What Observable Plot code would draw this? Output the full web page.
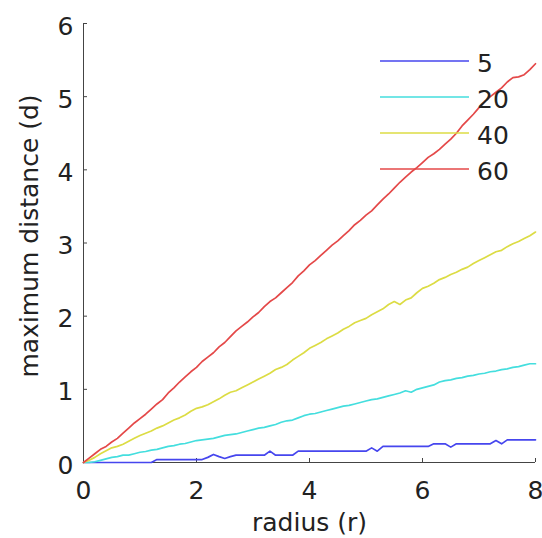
<!DOCTYPE html>
<html>
<head>
<meta charset="utf-8">
<script src="https://cdn.jsdelivr.net/npm/d3@7"></script>
<script src="https://cdn.jsdelivr.net/npm/@observablehq/plot@0.6"></script>
<style>
  html, body { margin: 0; padding: 0; background: #fff; }
</style>
</head>
<body>
<div id="chart"></div>
<script>
const radius = [0,0.1,0.2,0.3,0.4,0.5,0.6,0.7,0.8,0.9,1.0,1.1,1.2,1.3,1.4,1.5,1.6,1.7,1.8,1.9,
  2.0,2.1,2.2,2.3,2.4,2.5,2.6,2.7,2.8,2.9,3.0,3.1,3.2,3.3,3.4,3.5,3.6,3.7,3.8,3.9,
  4.0,4.1,4.2,4.3,4.4,4.5,4.6,4.7,4.8,4.9,5.0,5.1,5.2,5.3,5.4,5.5,5.6,5.7,5.8,5.9,
  6.0,6.1,6.2,6.3,6.4,6.5,6.6,6.7,6.8,6.9,7.0,7.1,7.2,7.3,7.4,7.5,7.6,7.7,7.8,7.9,8.0];

const d5 = [0,0,0,0,0,0,0,0,0,0,0,0,0,
  0.04,0.04,0.04,0.04,0.04,0.04,0.04,0.04,0.04,
  0.07,0.11,0.08,0.055,0.08,0.1,
  0.1,0.1,0.1,0.1,0.1,
  0.155,0.1,
  0.1,0.1,0.1,
  0.155,0.155,0.155,0.155,0.155,0.155,0.155,0.155,0.155,0.155,0.155,0.155,0.155,
  0.2,0.155,0.22,
  0.22,0.22,0.22,0.22,0.22,0.22,0.22,0.22,
  0.255,0.255,0.255,
  0.21,0.255,
  0.255,0.255,0.255,0.255,0.255,0.255,
  0.3,0.255,0.31,
  0.31,0.31,0.31,0.31,0.31];

const d20 = [0,0,0.01,0.03,0.05,0.07,0.08,0.1,0.1,0.12,0.14,0.15,0.17,0.18,0.2,0.22,0.23,0.25,0.26,0.28,
  0.3,0.31,0.32,0.33,0.35,0.37,0.38,0.39,0.41,0.43,0.45,0.47,0.48,0.5,0.52,0.55,0.57,0.58,0.61,0.64,
  0.66,0.67,0.69,0.71,0.73,0.75,0.77,0.78,0.8,0.82,0.84,0.86,0.87,0.89,0.91,0.93,0.95,0.98,0.96,1.0,
  1.02,1.04,1.06,1.1,1.12,1.13,1.15,1.16,1.18,1.19,1.21,1.22,1.24,1.25,1.27,1.28,1.3,1.31,1.33,1.35,1.35];

const d40 = [0,0.03,0.07,0.12,0.16,0.2,0.22,0.25,0.29,0.33,0.37,0.4,0.43,0.47,0.5,0.54,0.58,0.61,0.65,0.7,
  0.74,0.76,0.79,0.83,0.87,0.92,0.96,0.98,1.02,1.06,1.1,1.14,1.18,1.22,1.27,1.3,1.34,1.4,1.45,1.5,
  1.56,1.6,1.64,1.69,1.73,1.77,1.82,1.86,1.91,1.94,1.97,2.02,2.06,2.1,2.16,2.2,2.16,2.22,2.25,2.32,
  2.38,2.41,2.45,2.5,2.53,2.57,2.6,2.64,2.67,2.72,2.76,2.8,2.84,2.88,2.9,2.95,2.99,3.02,3.06,3.1,3.15];

const d60 = [0,0.06,0.12,0.18,0.22,0.28,0.33,0.4,0.47,0.54,0.6,0.66,0.73,0.8,0.86,0.95,1.02,1.1,1.17,1.24,
  1.3,1.38,1.44,1.5,1.58,1.64,1.72,1.8,1.86,1.92,1.99,2.05,2.13,2.2,2.25,2.32,2.39,2.46,2.55,2.62,
  2.7,2.76,2.83,2.9,2.97,3.03,3.1,3.17,3.25,3.31,3.38,3.44,3.52,3.6,3.67,3.75,3.83,3.9,3.97,4.03,
  4.1,4.17,4.22,4.28,4.35,4.42,4.5,4.6,4.68,4.76,4.85,4.93,5.0,5.06,5.12,5.2,5.26,5.27,5.3,5.37,5.45];

const seriesNames = ["5", "20", "40", "60"];
const seriesColors = ["#4646ee", "#44dede", "#dcdc44", "#e44848"];
const xTicks = [0, 2, 4, 6, 8];
const yTicks = [0, 1, 2, 3, 4, 5, 6];

const seriesValues = [d5, d20, d40, d60];
const table = [];
seriesNames.forEach((name, s) => {
  radius.forEach((r, i) => table.push({series: name, r, d: seriesValues[s][i]}));
});

const W = 542, H = 538, ML = 83, MR = 7, MT = 23, MB = 76;
const innerW = W - ML - MR, innerH = H - MT - MB;
const axisColor = "#444";
const font = "DejaVu Sans";

const svg = Plot.plot({
  width: W, height: H,
  marginLeft: ML, marginRight: MR, marginTop: MT, marginBottom: MB,
  style: {fontFamily: font, fontSize: "25px", background: "#fff", color: "#222"},
  x: {domain: [0, 8]},
  y: {domain: [0, 6]},
  color: {domain: seriesNames, range: seriesColors},
  marks: [
    Plot.axisX({ticks: xTicks, tickFormat: d => String(d), tickSize: 0, tickPadding: 19, label: null, fontSize: 25, fill: "#222"}),
    Plot.axisY({ticks: yTicks, tickFormat: d => String(d), tickSize: 0, tickPadding: 10, dy: 3, label: null, fontSize: 25, fill: "#222"}),
    Plot.tickX(xTicks, {x: d => d, insetTop: innerH - 4, stroke: axisColor}),
    Plot.tickY(yTicks, {y: d => d, insetRight: innerW - 4, stroke: axisColor}),
    Plot.ruleX([0], {stroke: axisColor}),
    Plot.ruleY([0], {stroke: axisColor}),
    Plot.line(table, {x: "r", y: "d", z: "series", stroke: "series", strokeWidth: 1.7, curve: "linear"}),
    Plot.text(["radius (r)"], {frameAnchor: "bottom", textAnchor: "middle", lineAnchor: "middle", dy: 60, fontSize: 25, fill: "#222"}),
    Plot.text(["maximum distance (d)"], {frameAnchor: "left", textAnchor: "middle", lineAnchor: "middle", dx: -54, dy: -7, rotate: -90, fontSize: 25, fill: "#222"})
  ]
});

// Legend (inside the plot, top right)
const lg = d3.select(svg).append("g").attr("class", "legend");
seriesNames.forEach((name, i) => {
  const y = 61 + i * 36;
  lg.append("line")
    .attr("x1", 380).attr("x2", 469).attr("y1", y).attr("y2", y)
    .attr("stroke", seriesColors[i]).attr("stroke-width", 1.7);
  lg.append("text")
    .attr("x", 477).attr("y", y + 11)
    .attr("text-anchor", "start")
    .attr("font-family", font).attr("font-size", 25).attr("fill", "#222")
    .text(name);
});

document.getElementById("chart").appendChild(svg);
</script>
</body>
</html>
